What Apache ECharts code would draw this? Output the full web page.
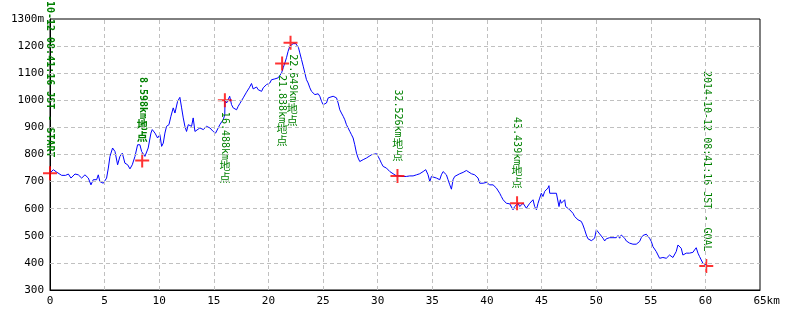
<!DOCTYPE html>
<html>
<head>
<meta charset="utf-8">
<script src="https://cdn.jsdelivr.net/npm/echarts@6/dist/echarts.min.js"></script>
<style>
html, body { margin: 0; padding: 0; background: #fff; }
#main { width: 800px; height: 320px; }
</style>
</head>
<body>
<div id="main"></div>
<script>
// 距離(km)と標高(m)
var distKm = [
    0, 0.30, 0.61, 1.07, 1.43, 1.68, 1.92, 2.29, 2.59, 2.90, 3.20, 3.51, 3.75, 3.96, 4.27, 4.42, 4.57, 4.88, 5.03, 5.18,
    5.34, 5.49, 5.73, 5.95, 6.19, 6.40, 6.62, 6.86, 7.11, 7.32, 7.53, 7.78, 8.02, 8.23, 8.39, 8.69, 8.84, 8.99, 9.24, 9.36,
    9.61, 9.85, 10.06, 10.22, 10.37, 10.52, 10.67, 10.89, 11.07, 11.28, 11.44, 11.68, 11.89, 12.05, 12.20, 12.35, 12.50, 12.66, 12.81, 12.96,
    13.11, 13.27, 13.42, 13.72, 14.03, 14.33, 14.64, 14.94, 15.16, 15.40, 15.55, 15.71, 15.86, 16.00, 16.02, 16.16, 16.31, 16.45, 16.62, 16.77,
    17.08, 17.23, 17.38, 17.69, 17.99, 18.24, 18.45, 18.60, 18.76, 18.91, 19.06, 19.21, 19.37, 19.52, 19.67, 19.82, 19.97, 20.13, 20.28, 20.43,
    20.59, 20.74, 20.89, 21.04, 21.20, 21.35, 21.50, 21.65, 21.80, 21.96, 22.11, 22.26, 22.51, 22.63, 22.75, 22.87, 23.03, 23.18, 23.33, 23.48,
    23.63, 23.79, 23.94, 24.09, 24.25, 24.40, 24.55, 24.70, 24.86, 25.01, 25.16, 25.31, 25.47, 25.62, 25.92, 26.23, 26.38, 26.53, 26.68, 26.84,
    26.99, 27.14, 27.29, 27.45, 27.60, 27.75, 27.90, 28.06, 28.21, 28.36, 28.51, 28.67, 28.82, 28.97, 29.12, 29.43, 29.58, 29.89, 30.04, 30.19,
    30.34, 30.50, 30.80, 31.11, 31.41, 31.72, 32.02, 32.33, 32.63, 32.94, 33.24, 33.55, 33.85, 34.16, 34.40, 34.61, 34.77, 34.92, 35.07, 35.38,
    35.68, 35.83, 35.99, 36.14, 36.29, 36.44, 36.60, 36.75, 36.90, 37.05, 37.21, 37.51, 37.82, 38.12, 38.27, 38.58, 38.88, 39.04, 39.19, 39.34,
    39.49, 39.65, 39.80, 39.95, 40.10, 40.26, 40.41, 40.56, 40.71, 40.87, 41.02, 41.17, 41.32, 41.48, 41.63, 41.78, 41.93, 42.09, 42.24, 42.39,
    42.54, 42.70, 42.85, 43.00, 43.15, 43.31, 43.46, 43.61, 43.76, 43.92, 44.07, 44.22, 44.37, 44.53, 44.68, 44.83, 44.98, 45.13, 45.29, 45.44,
    45.59, 45.68, 45.75, 46.05, 46.36, 46.51, 46.60, 46.72, 46.81, 46.97, 47.12, 47.21, 47.36, 47.58, 47.73, 47.88, 48.03, 48.19, 48.34, 48.49,
    48.64, 48.79, 48.95, 49.10, 49.25, 49.41, 49.56, 49.71, 49.86, 50.02, 50.17, 50.32, 50.47, 50.63, 50.78, 50.93, 51.08, 51.23, 51.39, 51.54,
    51.69, 51.84, 52.00, 52.15, 52.30, 52.45, 52.61, 52.76, 52.91, 53.06, 53.22, 53.37, 53.52, 53.67, 53.83, 53.98, 54.13, 54.28, 54.44, 54.59,
    54.74, 54.89, 55.05, 55.20, 55.35, 55.50, 55.66, 55.81, 55.96, 56.11, 56.27, 56.42, 56.57, 56.72, 56.88, 57.03, 57.18, 57.33, 57.49, 57.64,
    57.79, 57.94, 58.10, 58.25, 58.40, 58.55, 58.71, 58.86, 59.01, 59.16, 59.32, 59.47, 59.62, 59.77, 59.93, 60.08
];
var elevM = [
    731, 744, 735, 723, 723, 728, 713, 728, 725, 713, 725, 713, 688, 707, 707, 725, 700, 694, 697, 713,
    750, 793, 824, 811, 762, 793, 805, 768, 762, 747, 762, 793, 836, 836, 811, 793, 799, 824, 879, 892,
    879, 861, 873, 830, 842, 879, 904, 910, 941, 972, 953, 996, 1011, 972, 935, 904, 885, 910, 916, 904,
    935, 885, 879, 898, 892, 904, 898, 885, 879, 898, 910, 920, 928, 947, 1000, 990, 1002, 1015, 984, 972,
    965, 978, 988, 1009, 1030, 1046, 1062, 1042, 1037, 1049, 1039, 1042, 1033, 1046, 1052, 1058, 1052, 1064, 1076, 1070,
    1079, 1076, 1083, 1089, 1101, 1120, 1138, 1157, 1181, 1200, 1206, 1209, 1209, 1206, 1194, 1175, 1150, 1126, 1101, 1076,
    1064, 1046, 1033, 1027, 1021, 1027, 1024, 1015, 996, 984, 978, 990, 1009, 1015, 1015, 1009, 990, 965, 953, 941,
    928, 910, 898, 885, 873, 861, 836, 805, 787, 774, 774, 781, 787, 787, 793, 799, 803, 803, 793, 781,
    768, 756, 750, 737, 729, 721, 721, 719, 719, 721, 721, 725, 729, 737, 744, 725, 700, 719, 725, 713,
    707, 725, 737, 737, 725, 707, 688, 672, 707, 719, 725, 729, 734, 741, 734, 729, 725, 721, 713, 694,
    700, 694, 700, 697, 694, 688, 694, 688, 682, 676, 670, 657, 645, 633, 627, 620, 614, 618, 614, 596,
    608, 614, 620, 608, 614, 620, 627, 602, 608, 620, 627, 633, 608, 596, 620, 639, 657, 645, 664, 670,
    676, 685, 657, 657, 657, 651, 608, 633, 620, 627, 633, 608, 602, 596, 590, 583, 571, 565, 559, 556,
    553, 540, 522, 503, 489, 482, 482, 485, 491, 522, 516, 507, 506, 491, 481, 489, 491, 493, 497, 493,
    497, 493, 501, 491, 503, 497, 491, 481, 476, 473, 473, 469, 473, 469, 464, 479, 493, 501, 503, 506,
    501, 491, 479, 460, 454, 442, 436, 417, 411, 420, 420, 417, 420, 429, 432, 420, 417, 442, 466, 473,
    454, 429, 432, 436, 432, 436, 436, 439, 448, 456, 436, 423, 411, 399, 392, 392
];

// 赤い＋印
var markerKm = [0, 8.44, 16.01, 21.25, 22.02, 31.81, 42.76, 60.08];
var markerElev = [731, 778, 1000, 1136, 1212, 721, 620, 389];

// 緑の縦書きラベル（labelElev は文字列の下端）
var labelKm = [0, 8.44, 16.01, 21.23, 22.17, 31.84, 42.76, 60.14];
var labelElev = [789, 842, 691, 827, 904, 774, 672, 442];
var labelText = [
    '2014-10-12 08:41:16 JST - START',
    '8.598km地点',
    '16.488km地点',
    '21.838km地点',
    '22.649km地点',
    '32.526km地点',
    '43.439km地点',
    '2014-10-12 08:41:16 JST - GOAL'
];
var boldLabels = [0, 1];

// 目盛り
var xTicks = [0, 5, 10, 15, 20, 25, 30, 35, 40, 45, 50, 55, 60, 65];
var yTicks = [300, 400, 500, 600, 700, 800, 900, 1000, 1100, 1200, 1300];

var xMin = xTicks[0], xMax = xTicks[xTicks.length - 1], xStep = xTicks[1] - xTicks[0];
var yMin = yTicks[0], yMax = yTicks[yTicks.length - 1], yStep = yTicks[1] - yTicks[0];

var GREEN = '#008000';
var measureCtx = document.createElement('canvas').getContext('2d');

var renderLabel = function (params, api) {
    var i = params.dataIndex;
    var p = api.coord([api.value(0), api.value(1)]);
    var m = labelText[i].match(/^(.*?)([\u3000-\u9fff]*)$/);
    var latin = m[1], cjk = m[2];
    var weight = boldLabels.indexOf(i) >= 0 ? 'bold ' : '';
    var latinFont = weight + '10px "DejaVu Sans Mono"';
    measureCtx.font = latinFont;
    var w = measureCtx.measureText(latin).width;
    var top = p[1] - w - cjk.length * 12;
    var children = [{
        type: 'text',
        x: p[0],
        y: top,
        rotation: -Math.PI / 2,
        style: {
            text: latin, font: latinFont, fill: GREEN,
            textAlign: 'left', textVerticalAlign: 'middle'
        }
    }];
    for (var k = 0; k < cjk.length; k++) {
        children.push({
            type: 'text',
            x: p[0],
            y: top + w + k * 12 + 6,
            style: {
                text: cjk[k], font: weight + '11px "Noto Sans CJK JP"', fill: GREEN,
                textAlign: 'center', textVerticalAlign: 'middle'
            }
        });
    }
    return { type: 'group', children: children };
};

// 内側の点線グリッド（枠線上のものは除く）
var gridMarks = xTicks.slice(1, -1).map(function (v) { return { xAxis: v }; })
    .concat(yTicks.slice(1, -1).map(function (v) { return { yAxis: v }; }));

var myChart = echarts.init(document.getElementById('main'));
myChart.setOption({
    animation: false,
    grid: {
        left: 50, right: 40, top: 19, bottom: 30,
        show: true, borderColor: '#000', borderWidth: 1
    },
    xAxis: {
        type: 'value',
        min: xMin, max: xMax, interval: xStep,
        axisLine: { lineStyle: { color: '#000', width: 1 } },
        axisTick: { show: false },
        axisLabel: {
            color: '#000', fontFamily: 'DejaVu Sans Mono', fontSize: 11, margin: 6,
            showMaxLabel: true,
            formatter: function (v) { return v === xMax ? '  ' + v + 'km' : String(v); }
        },
        splitLine: { show: false }
    },
    yAxis: {
        type: 'value',
        min: yMin, max: yMax, interval: yStep,
        axisLine: { show: true, lineStyle: { color: '#000', width: 1 } },
        axisTick: { show: false },
        axisLabel: {
            color: '#000', fontFamily: 'DejaVu Sans Mono', fontSize: 11, margin: 6,
            showMaxLabel: true,
            formatter: function (v) { return v === yMax ? v + 'm' : String(v); }
        },
        splitLine: { show: false }
    },
    series: [
        {
            name: 'grid',
            type: 'line',
            data: [],
            z: 1,
            markLine: {
                silent: true,
                animation: false,
                symbol: ['none', 'none'],
                label: { show: false },
                lineStyle: { color: '#c0c0c0', type: [4, 3], width: 1, opacity: 1 },
                emphasis: { disabled: true },
                data: gridMarks
            }
        },
        {
            name: '標高',
            type: 'line',
            data: distKm.map(function (d, i) { return [d, elevM[i]]; }),
            showSymbol: false,
            symbol: 'none',
            lineStyle: { color: '#0000ff', width: 1 },
            z: 2
        },
        {
            name: '地点',
            type: 'scatter',
            data: markerKm.map(function (d, i) { return [d, markerElev[i]]; }),
            symbol: 'path://M6,0h2v6h6v2h-6v6h-2v-6h-6v-2h6z',
            symbolSize: 14,
            itemStyle: { color: '#ff0000' },
            z: 3
        },
        {
            name: 'ラベル',
            type: 'custom',
            data: labelKm.map(function (d, i) { return [d, labelElev[i]]; }),
            renderItem: renderLabel,
            z: 4
        }
    ]
});
</script>
</body>
</html>
